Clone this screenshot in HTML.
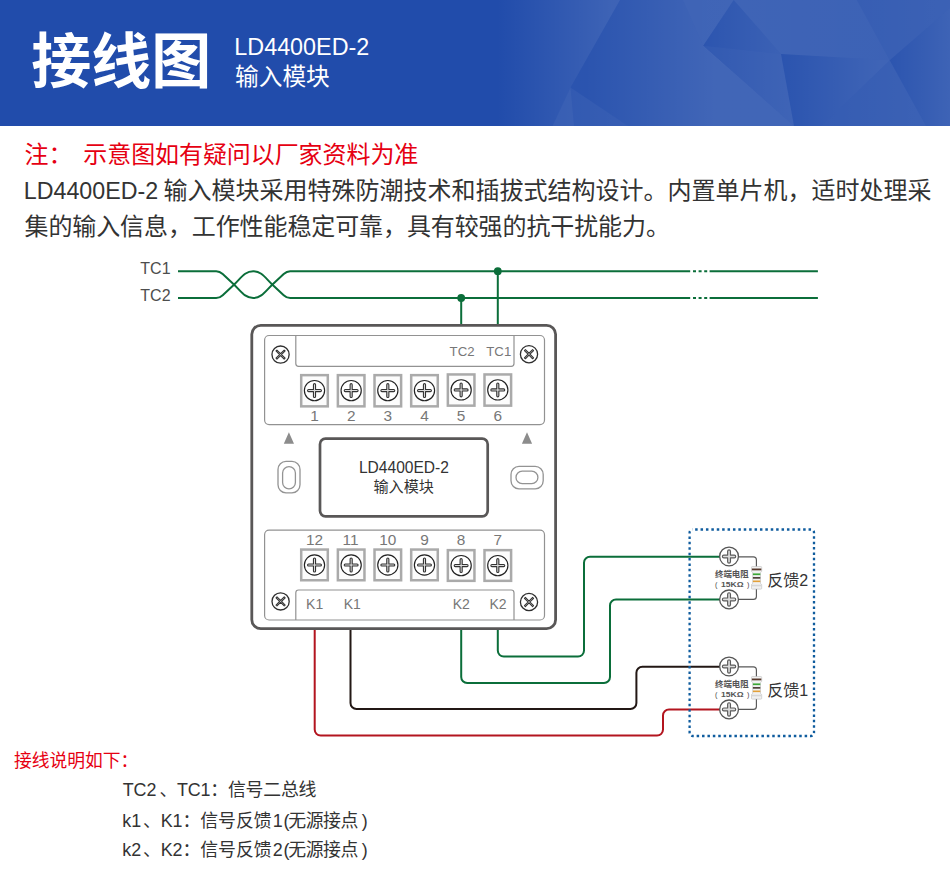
<!DOCTYPE html>
<html lang="zh-CN">
<head>
<meta charset="utf-8">
<title>接线图 LD4400ED-2 输入模块</title>
<style>
html,body{margin:0;padding:0;background:#fff;}
body{width:950px;height:872px;position:relative;overflow:hidden;font-family:"Liberation Sans",sans-serif;}
#art{position:absolute;left:0;top:0;width:950px;height:872px;display:block;}
#art text{font-family:"Liberation Sans","Noto Sans CJK SC",sans-serif;}
.t{position:absolute;margin:0;white-space:nowrap;color:transparent;font-family:"Liberation Sans",sans-serif;font-weight:normal;overflow:hidden;}
</style>
</head>
<body>
<svg id="art" width="950" height="872" viewBox="0 0 950 872">
<defs>
<linearGradient id="f0" gradientUnits="userSpaceOnUse" x1="497" y1="0" x2="612" y2="0"><stop offset="0" stop-color="#fff" stop-opacity="0.0"/><stop offset="1" stop-color="#fff" stop-opacity="0.13"/></linearGradient>
<linearGradient id="f1" gradientUnits="userSpaceOnUse" x1="550" y1="0" x2="575" y2="0"><stop offset="0" stop-color="#fff" stop-opacity="0.1"/><stop offset="1" stop-color="#fff" stop-opacity="0.115"/></linearGradient>
<linearGradient id="f2" gradientUnits="userSpaceOnUse" x1="585" y1="0" x2="715" y2="0"><stop offset="0" stop-color="#fff" stop-opacity="0.045"/><stop offset="1" stop-color="#fff" stop-opacity="0.145"/></linearGradient>
<linearGradient id="f3" gradientUnits="userSpaceOnUse" x1="572" y1="0" x2="628" y2="0"><stop offset="0" stop-color="#fff" stop-opacity="0.08"/><stop offset="1" stop-color="#fff" stop-opacity="0.1"/></linearGradient>
<linearGradient id="f4" gradientUnits="userSpaceOnUse" x1="683" y1="0" x2="733" y2="0"><stop offset="0" stop-color="#fff" stop-opacity="0.135"/><stop offset="1" stop-color="#fff" stop-opacity="0.14"/></linearGradient>
<linearGradient id="f5" gradientUnits="userSpaceOnUse" x1="702" y1="0" x2="781" y2="0"><stop offset="0" stop-color="#fff" stop-opacity="0.05"/><stop offset="1" stop-color="#fff" stop-opacity="0.12"/></linearGradient>
<linearGradient id="f6" gradientUnits="userSpaceOnUse" x1="733" y1="0" x2="890" y2="0"><stop offset="0" stop-color="#fff" stop-opacity="0.135"/><stop offset="1" stop-color="#fff" stop-opacity="0.125"/></linearGradient>
<linearGradient id="f7" gradientUnits="userSpaceOnUse" x1="702" y1="0" x2="794" y2="0"><stop offset="0" stop-color="#fff" stop-opacity="0.075"/><stop offset="1" stop-color="#fff" stop-opacity="0.135"/></linearGradient>
<linearGradient id="f8" gradientUnits="userSpaceOnUse" x1="781" y1="0" x2="880" y2="0"><stop offset="0" stop-color="#fff" stop-opacity="0.045"/><stop offset="1" stop-color="#fff" stop-opacity="0.135"/></linearGradient>
<linearGradient id="f9" gradientUnits="userSpaceOnUse" x1="821" y1="0" x2="926" y2="0"><stop offset="0" stop-color="#fff" stop-opacity="0.09"/><stop offset="1" stop-color="#fff" stop-opacity="0.12"/></linearGradient>
<linearGradient id="f10" gradientUnits="userSpaceOnUse" x1="856" y1="0" x2="950" y2="0"><stop offset="0" stop-color="#fff" stop-opacity="0.1"/><stop offset="1" stop-color="#fff" stop-opacity="0.12"/></linearGradient>
<linearGradient id="f11" gradientUnits="userSpaceOnUse" x1="889" y1="0" x2="950" y2="0"><stop offset="0" stop-color="#fff" stop-opacity="0.05"/><stop offset="1" stop-color="#fff" stop-opacity="0.13"/></linearGradient>
</defs>
<g id="header">
<rect x="0" y="0" width="950" height="126" fill="#214cab"/>
<polygon points="480,0 620,0 570.5,87.4 552.6,126 480,126" fill="url(#f0)"/>
<polygon points="570.5,87.4 552.6,126 574,126" fill="url(#f1)"/>
<polygon points="620,0 683,0 703,45.7 794,126 628,126 570.5,87.4" fill="url(#f2)"/>
<polygon points="570.5,87.4 628,126 574,126" fill="url(#f3)"/>
<polygon points="683,0 733.7,0 703,45.7" fill="url(#f4)"/>
<polygon points="733.7,0 702.7,45.7 781,54" fill="url(#f5)"/>
<polygon points="733.7,0 856.8,0 889.7,60.3 781,54" fill="url(#f6)"/>
<polygon points="702.7,45.7 781,54 794,126" fill="url(#f7)"/>
<polygon points="781,54 889.7,60.3 821.5,126 794,126" fill="url(#f8)"/>
<polygon points="889.7,60.3 821.5,126 926,126" fill="url(#f9)"/>
<polygon points="856.8,0 950,0 950,8 889.7,60.3" fill="url(#f10)"/>
<polygon points="889.7,60.3 950,8 950,126 926,126" fill="url(#f11)"/>
<text x="31.2" y="82.9" font-size="60" font-weight="bold" fill="#ffffff">接线图</text>
<text x="234.3" y="55" font-size="23.5" fill="#ffffff" textLength="135" lengthAdjust="spacingAndGlyphs">LD4400ED-2</text>
<text x="235" y="84.6" font-size="23.7" fill="#ffffff">输入模块</text>
</g>
<g id="para">
<text x="24.5" y="162.6" font-size="24" fill="#e60012">注：</text>
<text x="83.3" y="162.6" font-size="24" fill="#e60012" textLength="335" lengthAdjust="spacing">示意图如有疑问以厂家资料为准</text>
<text x="23.8" y="198.6" font-size="24" fill="#333333" textLength="134.4" lengthAdjust="spacingAndGlyphs">LD4400ED-2</text>
<text x="163.4" y="198.6" font-size="24" fill="#333333" textLength="768" lengthAdjust="spacing">输入模块采用特殊防潮技术和插拔式结构设计。内置单片机，适时处理采</text>
<text x="24.5" y="234.6" font-size="24" fill="#333333" textLength="645.4" lengthAdjust="spacing">集的输入信息，工作性能稳定可靠，具有较强的抗干扰能力。</text>
</g>
<g id="diagram" fill="none">
<g stroke="#0b6e3a" stroke-width="2" stroke-linecap="butt">
<path d="M178 271.2 H216.2 Q219.7 271.2 222.7 274 L233.4 283.95 C240.9 290.93 244.7 298 253.2 298 C261.7 298 265.5 290.93 273 283.95 L283.7 274 Q286.7 271.2 290.2 271.2 H690.2"/>
<path d="M178 298 H216.2 Q219.7 298 222.7 295.2 L233.4 285.25 C240.9 278.27 244.7 271.2 253.2 271.2 C261.7 271.2 265.5 278.27 273 285.25 L283.7 295.2 Q286.7 298 290.2 298 H690.2"/>
<path d="M693 271.2 h3 M698.6 271.2 h3 M704.2 271.2 h3 M709.6 271.2 H817.9"/>
<path d="M693 298 h3 M698.6 298 h3 M704.2 298 h3 M709.6 298 H817.9"/>
<path d="M497.8 271.2 V326 M461.2 298 V326"/>
</g>
<circle cx="497.8" cy="271.2" r="3.9" fill="#0b6e3a"/><circle cx="461.2" cy="298" r="3.9" fill="#0b6e3a"/>
<g stroke-width="2" stroke-linejoin="round">
<path stroke="#b3151f" d="M314.7 628 V729.6 a6 6 0 0 0 6 6 H657 a6 6 0 0 0 6 -6 V715.5 a6 6 0 0 1 6 -6 H720"/>
<path stroke="#231815" d="M350.5 628 V703 a6 6 0 0 0 6 6 H630.4 a6 6 0 0 0 6 -6 V672.8 a6 6 0 0 1 6 -6 H720"/>
<path stroke="#0b6e3a" d="M461.2 628 V677 a6 6 0 0 0 6 6 H604 a6 6 0 0 0 6 -6 V605.5 a6 6 0 0 1 6 -6 H720"/>
<path stroke="#0b6e3a" d="M497.8 628 V650.6 a6 6 0 0 0 6 6 H578 a6 6 0 0 0 6 -6 V562.8 a6 6 0 0 1 6 -6 H720"/>
</g>
<rect x="251.8" y="325.3" width="303.8" height="303.4" rx="9" fill="#ffffff" stroke="#595757" stroke-width="2.8"/>
<rect x="264.6" y="335.5" width="279.9" height="89.1" rx="4.5" stroke="#929292" stroke-width="1.2"/>
<path d="M295.8 335.5 V363.6 a2.8 2.8 0 0 0 2.8 2.8 H511.2 a2.8 2.8 0 0 0 2.8 -2.8 V335.5" stroke="#929292" stroke-width="1.2"/>
<rect x="264.6" y="530.2" width="279.9" height="89.8" rx="4.5" stroke="#929292" stroke-width="1.2"/>
<path d="M295.8 620 V592.8 a2.8 2.8 0 0 1 2.8 -2.8 H511.2 a2.8 2.8 0 0 1 2.8 2.8 V620" stroke="#929292" stroke-width="1.2"/>
<rect x="320" y="438.7" width="167.7" height="77.6" rx="5.5" stroke="#595757" stroke-width="2.7"/>
<rect x="278" y="461.4" width="22" height="31.4" rx="8" stroke="#939393" stroke-width="1.3"/>
<rect x="282.6" y="466.6" width="12.8" height="22.2" rx="6.4" stroke="#939393" stroke-width="1.3"/>
<rect x="511" y="466.4" width="32.2" height="22.4" rx="8" stroke="#939393" stroke-width="1.3"/>
<rect x="516" y="471.2" width="21.9" height="12.4" rx="6.2" stroke="#939393" stroke-width="1.3"/>
<path d="M288.9 432.2 L294 443.8 H283.8 Z M527 432.2 L532.1 443.8 H521.9 Z" fill="#8c8c8c"/>
</g>
<g transform="translate(280.55 354.6)"><circle r="8.6" fill="#fff" stroke="#2e2e2e" stroke-width="1.3"/><g transform="rotate(45)"><path d="M-5.8 -0.7 H-0.7 V-5.8 H0.7 V-0.7 H5.8 V0.7 H0.7 V5.8 H-0.7 V0.7 H-5.8 Z" fill="#d9d9d9" stroke="#333" stroke-width="1.05" stroke-linejoin="round"/></g></g>
<g transform="translate(529 354.2)"><circle r="8.6" fill="#fff" stroke="#2e2e2e" stroke-width="1.3"/><g transform="rotate(45)"><path d="M-5.8 -0.7 H-0.7 V-5.8 H0.7 V-0.7 H5.8 V0.7 H0.7 V5.8 H-0.7 V0.7 H-5.8 Z" fill="#d9d9d9" stroke="#333" stroke-width="1.05" stroke-linejoin="round"/></g></g>
<g transform="translate(280.6 601.4)"><circle r="8.6" fill="#fff" stroke="#2e2e2e" stroke-width="1.3"/><g transform="rotate(45)"><path d="M-5.8 -0.7 H-0.7 V-5.8 H0.7 V-0.7 H5.8 V0.7 H0.7 V5.8 H-0.7 V0.7 H-5.8 Z" fill="#d9d9d9" stroke="#333" stroke-width="1.05" stroke-linejoin="round"/></g></g>
<g transform="translate(529 602)"><circle r="8.6" fill="#fff" stroke="#2e2e2e" stroke-width="1.3"/><g transform="rotate(45)"><path d="M-5.8 -0.7 H-0.7 V-5.8 H0.7 V-0.7 H5.8 V0.7 H0.7 V5.8 H-0.7 V0.7 H-5.8 Z" fill="#d9d9d9" stroke="#333" stroke-width="1.05" stroke-linejoin="round"/></g></g>
<rect x="301.2" y="375.15" width="26.6" height="31.2" fill="#fcfcfc" stroke="#aaaaaa" stroke-width="2.5"/>
<g transform="translate(314.5 390.6)"><circle r="10.12" fill="#fff" stroke="#222" stroke-width="1.15"/><path d="M-5.9 -1.05 H-1.05 V-5.9 a1.05 1.05 0 0 1 2.1 0 V-1.05 H5.9 a1.05 1.05 0 0 1 0 2.1 H1.05 V5.9 a1.05 1.05 0 0 1 -2.1 0 V1.05 H-5.9 a1.05 1.05 0 0 1 0 -2.1 Z" fill="#dcdcdc" stroke="#333" stroke-width="1.1" stroke-linejoin="round"/></g>
<text x="310.23" y="421.1" font-size="15.4" fill="#777777">1</text>
<rect x="301.2" y="549.55" width="26.6" height="30.7" fill="#fcfcfc" stroke="#aaaaaa" stroke-width="2.5"/>
<g transform="translate(314.5 565)"><circle r="10.12" fill="#fff" stroke="#222" stroke-width="1.15"/><path d="M-5.9 -1.05 H-1.05 V-5.9 a1.05 1.05 0 0 1 2.1 0 V-1.05 H5.9 a1.05 1.05 0 0 1 0 2.1 H1.05 V5.9 a1.05 1.05 0 0 1 -2.1 0 V1.05 H-5.9 a1.05 1.05 0 0 1 0 -2.1 Z" fill="#dcdcdc" stroke="#333" stroke-width="1.1" stroke-linejoin="round"/></g>
<text x="305.95" y="544.8" font-size="15.4" fill="#777777">12</text>
<rect x="337.86" y="375.15" width="26.6" height="31.2" fill="#fcfcfc" stroke="#aaaaaa" stroke-width="2.5"/>
<g transform="translate(351.16 390.6)"><circle r="10.12" fill="#fff" stroke="#222" stroke-width="1.15"/><path d="M-5.9 -1.05 H-1.05 V-5.9 a1.05 1.05 0 0 1 2.1 0 V-1.05 H5.9 a1.05 1.05 0 0 1 0 2.1 H1.05 V5.9 a1.05 1.05 0 0 1 -2.1 0 V1.05 H-5.9 a1.05 1.05 0 0 1 0 -2.1 Z" fill="#dcdcdc" stroke="#333" stroke-width="1.1" stroke-linejoin="round"/></g>
<text x="346.89" y="421.1" font-size="15.4" fill="#777777">2</text>
<rect x="337.86" y="549.55" width="26.6" height="30.7" fill="#fcfcfc" stroke="#aaaaaa" stroke-width="2.5"/>
<g transform="translate(351.16 565)"><circle r="10.12" fill="#fff" stroke="#222" stroke-width="1.15"/><path d="M-5.9 -1.05 H-1.05 V-5.9 a1.05 1.05 0 0 1 2.1 0 V-1.05 H5.9 a1.05 1.05 0 0 1 0 2.1 H1.05 V5.9 a1.05 1.05 0 0 1 -2.1 0 V1.05 H-5.9 a1.05 1.05 0 0 1 0 -2.1 Z" fill="#dcdcdc" stroke="#333" stroke-width="1.1" stroke-linejoin="round"/></g>
<text x="342.61" y="544.8" font-size="15.4" fill="#777777">11</text>
<rect x="374.52" y="375.15" width="26.6" height="31.2" fill="#fcfcfc" stroke="#aaaaaa" stroke-width="2.5"/>
<g transform="translate(387.82 390.6)"><circle r="10.12" fill="#fff" stroke="#222" stroke-width="1.15"/><path d="M-5.9 -1.05 H-1.05 V-5.9 a1.05 1.05 0 0 1 2.1 0 V-1.05 H5.9 a1.05 1.05 0 0 1 0 2.1 H1.05 V5.9 a1.05 1.05 0 0 1 -2.1 0 V1.05 H-5.9 a1.05 1.05 0 0 1 0 -2.1 Z" fill="#dcdcdc" stroke="#333" stroke-width="1.1" stroke-linejoin="round"/></g>
<text x="383.55" y="421.1" font-size="15.4" fill="#777777">3</text>
<rect x="374.52" y="549.55" width="26.6" height="30.7" fill="#fcfcfc" stroke="#aaaaaa" stroke-width="2.5"/>
<g transform="translate(387.82 565)"><circle r="10.12" fill="#fff" stroke="#222" stroke-width="1.15"/><path d="M-5.9 -1.05 H-1.05 V-5.9 a1.05 1.05 0 0 1 2.1 0 V-1.05 H5.9 a1.05 1.05 0 0 1 0 2.1 H1.05 V5.9 a1.05 1.05 0 0 1 -2.1 0 V1.05 H-5.9 a1.05 1.05 0 0 1 0 -2.1 Z" fill="#dcdcdc" stroke="#333" stroke-width="1.1" stroke-linejoin="round"/></g>
<text x="379.27" y="544.8" font-size="15.4" fill="#777777">10</text>
<rect x="411.18" y="375.15" width="26.6" height="31.2" fill="#fcfcfc" stroke="#aaaaaa" stroke-width="2.5"/>
<g transform="translate(424.48 390.6)"><circle r="10.12" fill="#fff" stroke="#222" stroke-width="1.15"/><path d="M-5.9 -1.05 H-1.05 V-5.9 a1.05 1.05 0 0 1 2.1 0 V-1.05 H5.9 a1.05 1.05 0 0 1 0 2.1 H1.05 V5.9 a1.05 1.05 0 0 1 -2.1 0 V1.05 H-5.9 a1.05 1.05 0 0 1 0 -2.1 Z" fill="#dcdcdc" stroke="#333" stroke-width="1.1" stroke-linejoin="round"/></g>
<text x="420.21" y="421.1" font-size="15.4" fill="#777777">4</text>
<rect x="411.18" y="549.55" width="26.6" height="30.7" fill="#fcfcfc" stroke="#aaaaaa" stroke-width="2.5"/>
<g transform="translate(424.48 565)"><circle r="10.12" fill="#fff" stroke="#222" stroke-width="1.15"/><path d="M-5.9 -1.05 H-1.05 V-5.9 a1.05 1.05 0 0 1 2.1 0 V-1.05 H5.9 a1.05 1.05 0 0 1 0 2.1 H1.05 V5.9 a1.05 1.05 0 0 1 -2.1 0 V1.05 H-5.9 a1.05 1.05 0 0 1 0 -2.1 Z" fill="#dcdcdc" stroke="#333" stroke-width="1.1" stroke-linejoin="round"/></g>
<text x="420.21" y="544.8" font-size="15.4" fill="#777777">9</text>
<rect x="447.84" y="374.45" width="26.6" height="31.2" fill="#fcfcfc" stroke="#aaaaaa" stroke-width="2.5"/>
<g transform="translate(461.14 389.9)"><circle r="10.12" fill="#fff" stroke="#222" stroke-width="1.15"/><path d="M-5.9 -1.05 H-1.05 V-5.9 a1.05 1.05 0 0 1 2.1 0 V-1.05 H5.9 a1.05 1.05 0 0 1 0 2.1 H1.05 V5.9 a1.05 1.05 0 0 1 -2.1 0 V1.05 H-5.9 a1.05 1.05 0 0 1 0 -2.1 Z" fill="#dcdcdc" stroke="#333" stroke-width="1.1" stroke-linejoin="round"/></g>
<text x="456.87" y="421.1" font-size="15.4" fill="#777777">5</text>
<rect x="447.84" y="550.15" width="26.6" height="30.7" fill="#fcfcfc" stroke="#aaaaaa" stroke-width="2.5"/>
<g transform="translate(461.14 565.6)"><circle r="10.12" fill="#fff" stroke="#222" stroke-width="1.15"/><path d="M-5.9 -1.05 H-1.05 V-5.9 a1.05 1.05 0 0 1 2.1 0 V-1.05 H5.9 a1.05 1.05 0 0 1 0 2.1 H1.05 V5.9 a1.05 1.05 0 0 1 -2.1 0 V1.05 H-5.9 a1.05 1.05 0 0 1 0 -2.1 Z" fill="#dcdcdc" stroke="#333" stroke-width="1.1" stroke-linejoin="round"/></g>
<text x="456.87" y="544.8" font-size="15.4" fill="#777777">8</text>
<rect x="484.5" y="374.45" width="26.6" height="31.2" fill="#fcfcfc" stroke="#aaaaaa" stroke-width="2.5"/>
<g transform="translate(497.8 389.9)"><circle r="10.12" fill="#fff" stroke="#222" stroke-width="1.15"/><path d="M-5.9 -1.05 H-1.05 V-5.9 a1.05 1.05 0 0 1 2.1 0 V-1.05 H5.9 a1.05 1.05 0 0 1 0 2.1 H1.05 V5.9 a1.05 1.05 0 0 1 -2.1 0 V1.05 H-5.9 a1.05 1.05 0 0 1 0 -2.1 Z" fill="#dcdcdc" stroke="#333" stroke-width="1.1" stroke-linejoin="round"/></g>
<text x="493.53" y="421.1" font-size="15.4" fill="#777777">6</text>
<rect x="484.5" y="550.15" width="26.6" height="30.7" fill="#fcfcfc" stroke="#aaaaaa" stroke-width="2.5"/>
<g transform="translate(497.8 565.6)"><circle r="10.12" fill="#fff" stroke="#222" stroke-width="1.15"/><path d="M-5.9 -1.05 H-1.05 V-5.9 a1.05 1.05 0 0 1 2.1 0 V-1.05 H5.9 a1.05 1.05 0 0 1 0 2.1 H1.05 V5.9 a1.05 1.05 0 0 1 -2.1 0 V1.05 H-5.9 a1.05 1.05 0 0 1 0 -2.1 Z" fill="#dcdcdc" stroke="#333" stroke-width="1.1" stroke-linejoin="round"/></g>
<text x="493.53" y="544.8" font-size="15.4" fill="#777777">7</text>
<text x="449.61" y="356.1" font-size="13.2" fill="#777777">TC2</text>
<text x="486.31" y="356.1" font-size="13.2" fill="#777777">TC1</text>
<text x="306.09" y="609.2" font-size="14" fill="#777777">K1</text>
<text x="343.69" y="609.2" font-size="14" fill="#777777">K1</text>
<text x="452.79" y="609.2" font-size="14" fill="#777777">K2</text>
<text x="489.39" y="609.2" font-size="14" fill="#777777">K2</text>
<text x="358.96" y="473.2" font-size="16" fill="#333333" textLength="90" lengthAdjust="spacingAndGlyphs">LD4400ED-2</text>
<text x="373.5" y="492.4" font-size="15.1" fill="#333333">输入模块</text>
<text x="140.3" y="273.7" font-size="16" fill="#4d4d4d">TC1</text>
<text x="140.3" y="301.4" font-size="16" fill="#4d4d4d">TC2</text>
<path d="M692.6 529.5 H811 a3 3 0 0 1 3 3 V733 a3 3 0 0 1 -3 3 H692.6 a3 3 0 0 1 -3 -3 V532.5 a3 3 0 0 1 3 -3 Z" fill="none" stroke="#0f5c9e" stroke-width="2.3" stroke-dasharray="2.5 2.9" stroke-dashoffset="2.85"/>
<path d="M739 556.85 H753.4 a3 3 0 0 1 3 3 V596.4 a3 3 0 0 1 -3 3 H739" fill="none" stroke="#585858" stroke-width="1.15"/><g transform="translate(751.5 566.52)"><path d="M0.8 0 H9.4 a0.8 0.8 0 0 1 .8 .8 V5 L9 6 V17 L10.2 18 V21.8 a.8 .8 0 0 1 -.8 .8 H0.8 a.8 .8 0 0 1 -.8 -.8 V18 L1.2 17 V6 L0 5 V.8 a.8 .8 0 0 1 .8 -.8Z" fill="#f1f1f1" stroke="#bdbdbd" stroke-width="0.6"/><rect x="0.4" y="2" width="9.4" height="1.8" fill="#5a3a2c"/><rect x="1.4" y="6.9" width="7.4" height="1.7" fill="#3aa635"/><rect x="1.4" y="10.6" width="7.4" height="1.5" fill="#3b2a22"/><rect x="1.4" y="14" width="7.4" height="1.6" fill="#e3a038"/><rect x="0.4" y="18.2" width="9.4" height="1.6" fill="#d6d6d6"/></g><g transform="translate(729.05 556.45)"><circle r="9.4" fill="#fff" stroke="#555" stroke-width="1.3"/><path d="M-5.25 -1.4 H-1.4 V-5.25 a1.4 1.4 0 0 1 2.8 0 V-1.4 H5.25 a1.4 1.4 0 0 1 0 2.8 H1.4 V5.25 a1.4 1.4 0 0 1 -2.8 0 V1.4 H-5.25 a1.4 1.4 0 0 1 0 -2.8 Z" fill="#dcdcdc" stroke="#5c5c5c" stroke-width="1.2" stroke-linejoin="round"/></g><g transform="translate(729.05 599.4)"><circle r="9.4" fill="#fff" stroke="#555" stroke-width="1.3"/><path d="M-5.25 -1.4 H-1.4 V-5.25 a1.4 1.4 0 0 1 2.8 0 V-1.4 H5.25 a1.4 1.4 0 0 1 0 2.8 H1.4 V5.25 a1.4 1.4 0 0 1 -2.8 0 V1.4 H-5.25 a1.4 1.4 0 0 1 0 -2.8 Z" fill="#dcdcdc" stroke="#5c5c5c" stroke-width="1.2" stroke-linejoin="round"/></g><text x="715" y="577.02" font-size="8.45" font-weight="bold" fill="#555">终端电阻</text><text x="715" y="586.72" font-size="7.2" fill="#444">(</text><text x="721" y="586.72" font-size="7.2" font-weight="bold" fill="#555" textLength="22.6" lengthAdjust="spacingAndGlyphs">15KΩ</text><text x="747" y="586.72" font-size="7.2" fill="#444">)</text><text x="767.3" y="585.62" font-size="16" fill="#333">反馈2</text>
<path d="M739 666.85 H753.4 a3 3 0 0 1 3 3 V706.4 a3 3 0 0 1 -3 3 H739" fill="none" stroke="#585858" stroke-width="1.15"/><g transform="translate(751.5 676.52)"><path d="M0.8 0 H9.4 a0.8 0.8 0 0 1 .8 .8 V5 L9 6 V17 L10.2 18 V21.8 a.8 .8 0 0 1 -.8 .8 H0.8 a.8 .8 0 0 1 -.8 -.8 V18 L1.2 17 V6 L0 5 V.8 a.8 .8 0 0 1 .8 -.8Z" fill="#f1f1f1" stroke="#bdbdbd" stroke-width="0.6"/><rect x="0.4" y="2" width="9.4" height="1.8" fill="#5a3a2c"/><rect x="1.4" y="6.9" width="7.4" height="1.7" fill="#3aa635"/><rect x="1.4" y="10.6" width="7.4" height="1.5" fill="#3b2a22"/><rect x="1.4" y="14" width="7.4" height="1.6" fill="#e3a038"/><rect x="0.4" y="18.2" width="9.4" height="1.6" fill="#d6d6d6"/></g><g transform="translate(729.05 666.45)"><circle r="9.4" fill="#fff" stroke="#555" stroke-width="1.3"/><path d="M-5.25 -1.4 H-1.4 V-5.25 a1.4 1.4 0 0 1 2.8 0 V-1.4 H5.25 a1.4 1.4 0 0 1 0 2.8 H1.4 V5.25 a1.4 1.4 0 0 1 -2.8 0 V1.4 H-5.25 a1.4 1.4 0 0 1 0 -2.8 Z" fill="#dcdcdc" stroke="#5c5c5c" stroke-width="1.2" stroke-linejoin="round"/></g><g transform="translate(729.05 709.4)"><circle r="9.4" fill="#fff" stroke="#555" stroke-width="1.3"/><path d="M-5.25 -1.4 H-1.4 V-5.25 a1.4 1.4 0 0 1 2.8 0 V-1.4 H5.25 a1.4 1.4 0 0 1 0 2.8 H1.4 V5.25 a1.4 1.4 0 0 1 -2.8 0 V1.4 H-5.25 a1.4 1.4 0 0 1 0 -2.8 Z" fill="#dcdcdc" stroke="#5c5c5c" stroke-width="1.2" stroke-linejoin="round"/></g><text x="715" y="687.02" font-size="8.45" font-weight="bold" fill="#555">终端电阻</text><text x="715" y="696.72" font-size="7.2" fill="#444">(</text><text x="721" y="696.72" font-size="7.2" font-weight="bold" fill="#555" textLength="22.6" lengthAdjust="spacingAndGlyphs">15KΩ</text><text x="747" y="696.72" font-size="7.2" fill="#444">)</text><text x="767.3" y="695.62" font-size="16" fill="#333">反馈1</text>
<text x="13.9" y="766.8" font-size="17.8" fill="#e60012">接线说明如下：</text>
<text x="122.7" y="796" font-size="17.9" fill="#333333">TC2</text><text x="159.4" y="796" font-size="17.9" fill="#333333" textLength="157.1" lengthAdjust="spacing">、TC1：信号二总线</text>
<text x="122.3" y="826.6" font-size="17.9" fill="#333333">k1</text><text x="142.93" y="826.6" font-size="17.9" fill="#333333" textLength="128.7" lengthAdjust="spacing">、K1：信号反馈</text><text x="272.79" y="826.6" font-size="17.9" fill="#333333">1</text><text x="283.42" y="826.6" font-size="17.9" fill="#333333">(</text><text x="288.25" y="826.6" font-size="17.9" fill="#333333" textLength="70.1" lengthAdjust="spacing">无源接点</text><text x="361.65" y="826.6" font-size="17.9" fill="#333333">)</text>
<text x="122.3" y="856.3" font-size="17.9" fill="#333333">k2</text><text x="142.93" y="856.3" font-size="17.9" fill="#333333" textLength="128.7" lengthAdjust="spacing">、K2：信号反馈</text><text x="272.79" y="856.3" font-size="17.9" fill="#333333">2</text><text x="283.42" y="856.3" font-size="17.9" fill="#333333">(</text><text x="288.25" y="856.3" font-size="17.9" fill="#333333" textLength="70.1" lengthAdjust="spacing">无源接点</text><text x="361.65" y="856.3" font-size="17.9" fill="#333333">)</text>
</svg>
<h1 class="t" style="left:32px;top:28px;width:180px;height:64px;font-size:60px;line-height:64px">接线图</h1>
<div class="t" style="left:236px;top:36px;width:140px;height:24px;font-size:24px;line-height:24px">LD4400ED-2</div>
<div class="t" style="left:236px;top:63px;width:100px;height:26px;font-size:23px;line-height:26px">输入模块</div>
<p class="t" style="left:24px;top:141px;width:500px;height:28px;font-size:24px;line-height:28px">注： 示意图如有疑问以厂家资料为准</p>
<p class="t" style="left:24px;top:177px;width:912px;height:28px;font-size:24px;line-height:28px">LD4400ED-2 输入模块采用特殊防潮技术和插拔式结构设计。内置单片机，适时处理采</p>
<p class="t" style="left:24px;top:213px;width:700px;height:28px;font-size:24px;line-height:28px">集的输入信息，工作性能稳定可靠，具有较强的抗干扰能力。</p>
<span class="t" style="left:140px;top:261px;width:30px;height:16px;font-size:15px;line-height:16px">TC1</span>
<span class="t" style="left:140px;top:289px;width:30px;height:16px;font-size:15px;line-height:16px">TC2</span>
<span class="t" style="left:449px;top:345px;width:26px;height:14px;font-size:14px;line-height:14px">TC2</span>
<span class="t" style="left:486px;top:345px;width:26px;height:14px;font-size:14px;line-height:14px">TC1</span>
<span class="t" style="left:306px;top:409px;width:16px;height:13px;font-size:14px;line-height:13px">1</span>
<span class="t" style="left:306px;top:533px;width:16px;height:13px;font-size:14px;line-height:13px">12</span>
<span class="t" style="left:343px;top:409px;width:16px;height:13px;font-size:14px;line-height:13px">2</span>
<span class="t" style="left:343px;top:533px;width:16px;height:13px;font-size:14px;line-height:13px">11</span>
<span class="t" style="left:379px;top:409px;width:16px;height:13px;font-size:14px;line-height:13px">3</span>
<span class="t" style="left:379px;top:533px;width:16px;height:13px;font-size:14px;line-height:13px">10</span>
<span class="t" style="left:416px;top:409px;width:16px;height:13px;font-size:14px;line-height:13px">4</span>
<span class="t" style="left:416px;top:533px;width:16px;height:13px;font-size:14px;line-height:13px">9</span>
<span class="t" style="left:453px;top:409px;width:16px;height:13px;font-size:14px;line-height:13px">5</span>
<span class="t" style="left:453px;top:533px;width:16px;height:13px;font-size:14px;line-height:13px">8</span>
<span class="t" style="left:489px;top:409px;width:16px;height:13px;font-size:14px;line-height:13px">6</span>
<span class="t" style="left:489px;top:533px;width:16px;height:13px;font-size:14px;line-height:13px">7</span>
<span class="t" style="left:360px;top:461px;width:90px;height:16px;font-size:16px;line-height:16px">LD4400ED-2</span>
<span class="t" style="left:373px;top:479px;width:64px;height:16px;font-size:15px;line-height:16px">输入模块</span>
<span class="t" style="left:306px;top:598px;width:18px;height:13px;font-size:14px;line-height:13px">K1</span>
<span class="t" style="left:343px;top:598px;width:18px;height:13px;font-size:14px;line-height:13px">K1</span>
<span class="t" style="left:453px;top:598px;width:18px;height:13px;font-size:14px;line-height:13px">K2</span>
<span class="t" style="left:490px;top:598px;width:18px;height:13px;font-size:14px;line-height:13px">K2</span>
<span class="t" style="left:715px;top:569px;width:36px;height:10px;font-size:8px;line-height:10px">终端电阻</span>
<span class="t" style="left:715px;top:580px;width:36px;height:10px;font-size:8px;line-height:10px">( 15KΩ )</span>
<span class="t" style="left:768px;top:571px;width:44px;height:18px;font-size:16px;line-height:18px">反馈2</span>
<span class="t" style="left:715px;top:679px;width:36px;height:10px;font-size:8px;line-height:10px">终端电阻</span>
<span class="t" style="left:715px;top:690px;width:36px;height:10px;font-size:8px;line-height:10px">( 15KΩ )</span>
<span class="t" style="left:768px;top:681px;width:44px;height:18px;font-size:16px;line-height:18px">反馈1</span>
<p class="t" style="left:15px;top:750px;width:120px;height:20px;font-size:18px;line-height:20px">接线说明如下：</p>
<p class="t" style="left:124px;top:781px;width:200px;height:20px;font-size:18px;line-height:20px">TC2 、TC1：信号二总线</p>
<p class="t" style="left:124px;top:811px;width:250px;height:20px;font-size:18px;line-height:20px">k1、K1：信号反馈1(无源接点)</p>
<p class="t" style="left:124px;top:841px;width:250px;height:20px;font-size:18px;line-height:20px">k2、K2：信号反馈2(无源接点)</p>
</body>
</html>
